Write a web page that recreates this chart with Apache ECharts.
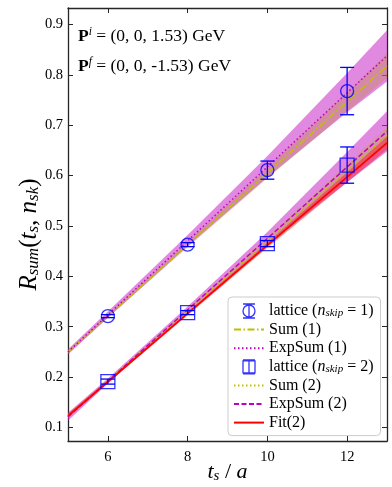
<!DOCTYPE html>
<html><head><meta charset="utf-8">
<script src="https://cdn.jsdelivr.net/npm/echarts@6/dist/echarts.min.js"></script>
<style>html,body{margin:0;padding:0;background:#fff}#c{width:392px;height:487px}</style>
</head><body><div id="c"></div>
<script>
// ---- data ----
const xTicks = [6, 8, 10, 12];
const yTicks = [0.1, 0.2, 0.3, 0.4, 0.5, 0.6, 0.7, 0.8, 0.9];

const tLattice = [6, 8, 10, 12];
const lat1 = [0.321, 0.463, 0.611, 0.768];
const lat1Err = [0.003, 0.004, 0.018, 0.047];
const lat2 = [0.191, 0.328, 0.465, 0.621];
const lat2Err = [0.005, 0.004, 0.006, 0.036];

const tFit = [5, 13];
const sum1 = [0.250, 0.818];
const expSum1 = [0.250, 0.838];
const sum2 = [0.122, 0.680];
const expSum2 = [0.121, 0.688];
const fit2 = [0.123, 0.665];

const tBand = [5, 6, 8, 10, 12, 13];
const expSum1Lo = [0.245, 0.318, 0.460, 0.597, 0.726, 0.787];
const expSum1Hi = [0.255, 0.330, 0.482, 0.639, 0.804, 0.889];
const sum1Lo = [0.247, 0.318, 0.458, 0.595, 0.728, 0.794];
const sum1Hi = [0.253, 0.324, 0.468, 0.615, 0.766, 0.842];
const expSum2Lo = [0.113, 0.187, 0.328, 0.462, 0.587, 0.648];
const expSum2Hi = [0.129, 0.197, 0.340, 0.488, 0.647, 0.728];
const sum2Lo = [0.118, 0.189, 0.327, 0.464, 0.597, 0.664];
const sum2Hi = [0.126, 0.195, 0.335, 0.478, 0.623, 0.696];
const fit2Lo = [0.119, 0.188, 0.323, 0.457, 0.587, 0.652];
const fit2Hi = [0.127, 0.194, 0.329, 0.467, 0.607, 0.678];

// ---- styling ----
const FONT = 'Liberation Serif';
const BLUE = '#0000ff';
const MAG = '#c000c0';
const OLIVE = '#bfbf00';
const RED = '#ff0000';
const AX = '#262626';

function bandSeries(xs, lo, hi, color, z) {
  return {
    type: 'custom', silent: true, z: z, clip: true,
    data: xs.map((x, i) => [x, lo[i], hi[i]]),
    encode: { x: 0, y: [1, 2] },
    renderItem: function (params, api) {
      if (params.dataIndexInside !== 0) return;
      const n = params.dataInsideLength;
      const up = [], dn = [];
      for (let i = 0; i < n; i++) {
        up.push(api.coord([api.value(0, i), api.value(2, i)]));
        dn.push(api.coord([api.value(0, i), api.value(1, i)]));
      }
      return { type: 'polygon', shape: { points: up.concat(dn.reverse()) }, style: { fill: color } };
    }
  };
}
function errSeries(xs, ys, es, z) {
  return {
    type: 'custom', silent: true, z: z,
    data: xs.map((x, i) => [x, ys[i] - es[i], ys[i] + es[i]]),
    encode: { x: 0, y: [1, 2] },
    renderItem: function (params, api) {
      const x = api.value(0);
      const lo = api.coord([x, api.value(1)]);
      const hi = api.coord([x, api.value(2)]);
      const w = 7;
      const st = { stroke: BLUE, lineWidth: 1.3, fill: 'none' };
      return { type: 'group', children: [
        { type: 'line', shape: { x1: lo[0], y1: lo[1], x2: hi[0], y2: hi[1] }, style: st },
        { type: 'line', shape: { x1: lo[0] - w, y1: lo[1], x2: lo[0] + w, y2: lo[1] }, style: st },
        { type: 'line', shape: { x1: hi[0] - w, y1: hi[1], x2: hi[0] + w, y2: hi[1] }, style: st }
      ] };
    }
  };
}
function lineSeries(name, ys, color, width, type, z) {
  return {
    type: 'line', name: name, z: z, silent: true, symbol: 'none', showSymbol: false,
    data: tFit.map((x, i) => [x, ys[i]]),
    lineStyle: { color: color, width: width, type: type },
    itemStyle: { color: color }
  };
}

const legendText = {
  lat1: '{r|lattice (}{i|n}{s|skip}{r| = 1)}',
  sum1: '{r|Sum (1)}',
  exp1: '{r|ExpSum (1)}',
  lat2: '{r|lattice (}{i|n}{s|skip}{r| = 2)}',
  sum2: '{r|Sum (2)}',
  exp2: '{r|ExpSum (2)}',
  fit2: '{r|Fit(2)}'
};
const richBase = {
  r: { fontFamily: FONT, fontSize: 16, color: '#000', lineHeight: 16, verticalAlign: 'middle' },
  i: { fontFamily: FONT, fontSize: 16, fontStyle: 'italic', color: '#000', lineHeight: 16, verticalAlign: 'middle' },
  s: { fontFamily: FONT, fontSize: 11, fontStyle: 'italic', color: '#000', lineHeight: 10, verticalAlign: 'bottom' }
};

const iconCircle = 'path://M1,8A6,6 0 1,1 13,8A6,6 0 1,1 1,8M7,1L7,15M1,1L13,1M1,15L13,15';
const iconSquare = 'path://M1,2L13,2L13,14L1,14ZM7,1L7,15M1,1L13,1M1,15L13,15';
const hideSym = { opacity: 0 };

const axisNameRich = {
  r: { fontFamily: FONT, fontSize: 25, color: '#000', lineHeight: 26 },
  i: { fontFamily: FONT, fontSize: 25, fontStyle: 'italic', color: '#000', lineHeight: 26 },
  s: { fontFamily: FONT, fontSize: 17, fontStyle: 'italic', color: '#000', lineHeight: 16, verticalAlign: 'bottom' }
};
const xNameRich = {
  r: { fontFamily: FONT, fontSize: 22, color: '#000', lineHeight: 24 },
  i: { fontFamily: FONT, fontSize: 22, fontStyle: 'italic', color: '#000', lineHeight: 24 },
  s: { fontFamily: FONT, fontSize: 15, fontStyle: 'italic', color: '#000', lineHeight: 15, verticalAlign: 'bottom' }
};

const chart = echarts.init(document.getElementById('c'), null, { renderer: 'canvas' });
chart.setOption({
  animation: false,
  backgroundColor: '#fff',
  grid: { left: 68, top: 8, width: 319, height: 433, containLabel: false, outerBoundsMode: 'none' },
  xAxis: [{
    type: 'value', min: 5, max: 13, position: 'bottom',
    axisLine: { show: true, lineStyle: { color: AX, width: 1.3 } },
    axisTick: { show: true, inside: true, length: 5, customValues: xTicks, lineStyle: { color: AX, width: 1 } },
    axisLabel: { customValues: xTicks, margin: 9, fontFamily: FONT, fontSize: 14.5, color: '#000' },
    splitLine: { show: false },
    name: '{i|t}{s|s}{r| / }{i|a}', nameLocation: 'middle', nameGap: 19, nameMoveOverlap: false,
    nameTextStyle: { rich: xNameRich }
  }, {
    type: 'value', min: 5, max: 13, position: 'top',
    axisLine: { show: true, lineStyle: { color: AX, width: 1.3 } },
    axisTick: { show: true, inside: true, length: 5, customValues: xTicks, lineStyle: { color: AX, width: 1 } },
    axisLabel: { show: false }, splitLine: { show: false }
  }],
  yAxis: [{
    type: 'value', min: 0.073, max: 0.933, position: 'left',
    axisLine: { show: true, lineStyle: { color: AX, width: 1.3 } },
    axisTick: { show: true, inside: true, length: 5, customValues: yTicks, lineStyle: { color: AX, width: 1 } },
    axisLabel: { customValues: yTicks, margin: 5, fontFamily: FONT, fontSize: 14.5, color: '#000',
      formatter: v => v.toFixed(1) },
    splitLine: { show: false },
    name: '{i|R}{s|sum}{r|(}{i|t}{s|s}{r|, }{i|n}{s|sk}{r|)}', nameLocation: 'middle', nameRotate: 90, nameGap: 26,
    nameMoveOverlap: false,
    nameTextStyle: { rich: axisNameRich, padding: [0, 20, 0, 0] }
  }, {
    type: 'value', min: 0.073, max: 0.933, position: 'right',
    axisLine: { show: true, lineStyle: { color: AX, width: 1.3 } },
    axisTick: { show: true, inside: true, length: 5, customValues: yTicks, lineStyle: { color: AX, width: 1 } },
    axisLabel: { show: false }, splitLine: { show: false }
  }],
  legend: {
    orient: 'vertical', left: 228, top: 297,
    padding: [6, 7, 5, 5], itemWidth: 30, itemHeight: 14, itemGap: 2.6,
    backgroundColor: 'rgba(255,255,255,0.85)', borderColor: '#cccccc', borderWidth: 1, borderRadius: 4,
    selectedMode: false,
    formatter: name => legendText[name],
    textStyle: { fontFamily: FONT, fontSize: 16, color: '#000', rich: richBase },
    data: [
      { name: 'lat1', icon: iconCircle, itemStyle: { color: 'transparent', borderColor: BLUE, borderWidth: 1.3 } },
      { name: 'sum1', itemStyle: hideSym }, { name: 'exp1', itemStyle: hideSym },
      { name: 'lat2', icon: iconSquare, itemStyle: { color: 'transparent', borderColor: BLUE, borderWidth: 1.3 } },
      { name: 'sum2', itemStyle: hideSym }, { name: 'exp2', itemStyle: hideSym }, { name: 'fit2', itemStyle: hideSym }
    ]
  },
  graphic: [
    { type: 'text', left: 78, top: 26, z: 100, style: {
      text: '{b|P}{sup|i}{r| = (0, 0, 1.53) GeV}',
      rich: {
        b: { fontFamily: FONT, fontSize: 17.5, fontWeight: 'bold', fill: '#000', lineHeight: 20 },
        sup: { fontFamily: FONT, fontSize: 11.5, fontStyle: 'italic', fill: '#000', lineHeight: 12, verticalAlign: 'top' },
        r: { fontFamily: FONT, fontSize: 17.5, fill: '#000', lineHeight: 20 }
      } } },
    { type: 'text', left: 78, top: 56, z: 100, style: {
      text: '{b|P}{sup|f}{r| = (0, 0, -1.53) GeV}',
      rich: {
        b: { fontFamily: FONT, fontSize: 17.5, fontWeight: 'bold', fill: '#000', lineHeight: 20 },
        sup: { fontFamily: FONT, fontSize: 11.5, fontStyle: 'italic', fill: '#000', lineHeight: 12, verticalAlign: 'top' },
        r: { fontFamily: FONT, fontSize: 17.5, fill: '#000', lineHeight: 20 }
      } } }
  ],
  series: [
    bandSeries(tBand, expSum1Lo, expSum1Hi, 'rgba(200,40,200,0.55)', 1),
    bandSeries(tBand, sum1Lo, sum1Hi, 'rgba(190,140,60,0.35)', 2),
    bandSeries(tBand, expSum2Lo, expSum2Hi, 'rgba(200,40,200,0.55)', 1),
    bandSeries(tBand, sum2Lo, sum2Hi, 'rgba(190,170,40,0.35)', 2),
    bandSeries(tBand, fit2Lo, fit2Hi, 'rgba(255,20,20,0.45)', 3),
    lineSeries('sum1', sum1, OLIVE, 1.5, [7, 2.5, 1.5, 2.5], 5),
    lineSeries('exp1', expSum1, MAG, 1.5, [1.5, 2.5], 5),
    lineSeries('sum2', sum2, OLIVE, 1.5, [1.5, 2.5], 5),
    lineSeries('exp2', expSum2, MAG, 1.5, [5, 2.5], 5),
    lineSeries('fit2', fit2, RED, 1.8, 'solid', 6),
    errSeries(tLattice, lat1, lat1Err, 9),
    errSeries(tLattice, lat2, lat2Err, 9),
    { type: 'scatter', name: 'lat1', z: 10, silent: true, symbol: 'circle', symbolSize: 13,
      data: tLattice.map((x, i) => [x, lat1[i]]),
      itemStyle: { color: 'transparent', borderColor: BLUE, borderWidth: 1.3 } },
    { type: 'scatter', name: 'lat2', z: 10, silent: true, symbol: 'rect', symbolSize: 14,
      data: tLattice.map((x, i) => [x, lat2[i]]),
      itemStyle: { color: 'transparent', borderColor: BLUE, borderWidth: 1.3 } }
  ]
});
</script>
</body></html>
